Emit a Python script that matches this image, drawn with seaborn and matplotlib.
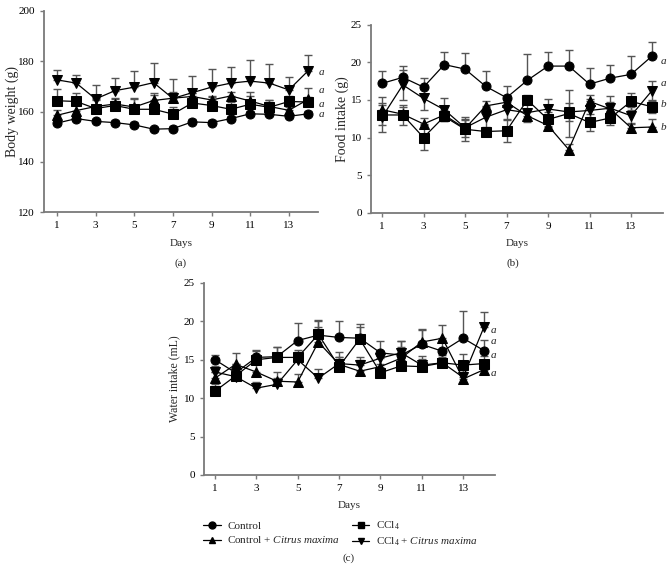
import numpy as np
import pandas as pd
import seaborn as sns
import matplotlib.pyplot as plt
from matplotlib.lines import Line2D

# data
days = list(range(1, 15))
groups = ["Control", "Control + CM", "CCl4", "CCl4 + CM"]

bw_control = [155.4, 157.2, 156.1, 155.6, 154.7, 153.0, 153.2, 155.9, 155.6, 157.2, 159.1, 158.9, 158.1, 159.1]
bw_control_cm = [158.5, 160.4, 162.0, 163.0, 161.8, 164.4, 165.3, 166.0, 164.6, 166.2, 164.2, 162.0, 160.5, 164.8]
bw_ccl4 = [164.3, 164.0, 161.2, 162.4, 160.9, 160.9, 159.0, 163.4, 162.4, 160.9, 162.9, 161.7, 164.0, 163.8]
bw_ccl4_cm = [172.6, 171.3, 165.0, 168.3, 169.7, 171.5, 165.2, 167.5, 169.7, 171.3, 172.1, 171.3, 168.6, 176.2]
bw_control_err = [1.0, 1.2, 1.0, 1.0, 1.0, 1.0, 1.0, 1.0, 1.0, 1.0, 1.0, 1.0, 1.0, 1.0]
bw_control_cm_err = [2.0, 2.5, 2.5, 2.5, 3.0, 2.8, 2.5, 2.5, 1.5, 1.5, 2.0, 2.5, 1.5, 4.5]
bw_ccl4_err = [4.5, 3.5, 4.0, 2.5, 4.5, 5.5, 3.0, 4.0, 3.5, 3.0, 5.0, 3.0, 2.0, 2.0]
bw_ccl4_cm_err = [3.8, 3.3, 5.6, 4.9, 6.6, 7.7, 7.8, 6.7, 7.3, 6.6, 8.2, 7.6, 5.3, 6.1]

fi_control = [17.2, 18.0, 16.7, 19.7, 19.1, 16.8, 15.3, 17.6, 19.5, 19.5, 17.1, 17.9, 18.4, 20.8]
fi_control_cm = [13.7, 13.1, 11.8, 13.0, 11.2, 14.2, 14.7, 12.9, 11.6, 8.4, 14.8, 13.8, 11.3, 11.4]
fi_ccl4 = [13.0, 13.0, 10.0, 12.8, 11.1, 10.8, 10.9, 15.0, 12.4, 13.2, 12.0, 12.6, 14.8, 14.1]
fi_ccl4_cm = [12.7, 17.0, 15.2, 13.7, 11.3, 12.7, 13.7, 13.3, 13.8, 13.4, 13.6, 13.9, 12.9, 16.2]
fi_control_err = [1.6, 1.5, 1.2, 1.7, 2.1, 2.0, 1.5, 3.5, 1.9, 2.2, 2.2, 1.8, 2.4, 1.9]
fi_control_cm_err = [1.7, 1.0, 0.8, 0.6, 1.1, 0.7, 1.0, 0.6, 0.6, 0.8, 0.8, 0.9, 0.6, 1.0]
fi_ccl4_err = [1.3, 1.3, 1.7, 0.6, 1.6, 0.4, 1.5, 0.6, 1.0, 3.1, 1.1, 0.9, 1.1, 0.9]
fi_ccl4_cm_err = [1.9, 2.0, 1.5, 1.5, 1.2, 1.3, 1.4, 1.2, 1.3, 1.2, 1.5, 1.6, 1.1, 1.3]

wi_control = [15.0, 13.3, 15.3, 15.4, 17.5, 18.2, 17.9, 17.8, 15.9, 15.6, 17.0, 16.1, 17.8, 16.2]
wi_control_cm = [12.6, 14.4, 13.4, 12.2, 12.1, 17.3, 14.4, 13.5, 14.1, 15.2, 17.3, 17.8, 12.5, 13.7]
wi_ccl4 = [10.9, 12.9, 15.0, 15.3, 15.3, 18.3, 14.1, 17.7, 13.3, 14.2, 14.1, 14.6, 14.3, 14.5]
wi_ccl4_cm = [13.4, 12.8, 11.3, 11.8, 15.0, 12.6, 14.5, 14.3, 15.2, 15.9, 14.3, 14.6, 12.7, 19.2]
wi_control_err = [0.6, 1.0, 1.0, 1.2, 2.3, 2.0, 2.2, 1.9, 1.5, 1.8, 2.0, 1.5, 3.5, 1.4]
wi_control_cm_err = [0.8, 1.5, 1.0, 1.2, 1.0, 2.0, 1.0, 1.5, 1.5, 1.5, 1.6, 1.7, 1.2, 1.0]
wi_ccl4_err = [1.0, 1.5, 1.2, 1.4, 1.0, 1.8, 1.2, 1.5, 1.2, 1.0, 1.0, 0.8, 1.4, 1.0]
wi_ccl4_cm_err = [0.8, 1.2, 0.8, 0.8, 1.0, 1.2, 1.5, 1.0, 1.0, 1.5, 1.2, 1.0, 1.0, 2.0]

# significance letters at the end of each panel: (text, y value)
bw_letters = [("a", 175.5), ("a", 168.3), ("a", 163.0), ("a", 158.9)]
fi_letters = [("a", 20.1), ("a", 17.2), ("b", 14.4), ("b", 11.3)]
wi_letters = [("a", 18.8), ("a", 17.4), ("a", 15.6), ("a", 13.2)]

markers = {"Control": "o", "Control + CM": "^", "CCl4": "s", "CCl4 + CM": "v"}
legend_labels = {"Control": "Control",
                 "Control + CM": r"Control + $\it{Citrus\ maxima}$",
                 "CCl4": r"CCl$_4$",
                 "CCl4 + CM": r"CCl$_4$ + $\it{Citrus\ maxima}$"}

sns.set_style("ticks")
plt.rcParams["font.family"] = ["Liberation Serif", "DejaVu Serif"]
plt.rcParams["mathtext.fontset"] = "custom"
plt.rcParams["mathtext.rm"] = "Liberation Serif"
plt.rcParams["mathtext.it"] = "Liberation Serif:italic"
plt.rcParams["font.size"] = 8

AXIS_GREY = "#7a7a7a"


def make_frame(values):
    rows = []
    for g, vals in zip(groups, values):
        for d, v in zip(days, vals):
            rows.append({"day": d, "value": v, "group": g})
    return pd.DataFrame(rows)


def draw_panel(ax, values, errors, directions, ylim, yticks, ylabel, label_size, label_x,
               xlim, letters, letter_x):
    df = make_frame(values)
    # error bars first so markers sit on top
    for vals, err, way in zip(values, errors, directions):
        err = np.array(err)
        lower = err if way == "both" else np.zeros_like(err)
        ax.errorbar(days, vals, yerr=[lower, err], fmt="none", ecolor="#555555",
                    elinewidth=1.0, capsize=3, capthick=1.0, zorder=1)
    sns.lineplot(data=df, x="day", y="value", style="group", markers=markers,
                 dashes=False, color="black", linewidth=0.9, markersize=6.5,
                 markeredgecolor="black", legend=False, ax=ax, zorder=3)
    ax.set_ylim(*ylim)
    ax.set_yticks(yticks)
    ax.set_xlim(*xlim)
    ax.set_xticks([1, 3, 5, 7, 9, 11, 13])
    ax.set_xlabel("Days", fontsize=8, labelpad=6)
    ax.set_ylabel(ylabel, fontsize=label_size)
    ax.yaxis.set_label_coords(label_x, 0.5)
    sns.despine(ax=ax)
    for side in ["left", "bottom"]:
        ax.spines[side].set_color(AXIS_GREY)
        ax.spines[side].set_linewidth(1.3)
    ax.tick_params(axis="both", colors=AXIS_GREY, labelcolor="black",
                   labelsize=8, length=3, width=1.0)
    for txt, y in letters:
        ax.text(letter_x, y, txt, style="italic", fontsize=8, va="center", ha="left",
                clip_on=False)


fig = plt.figure(figsize=(6.71, 5.75), dpi=100)
ax_a = fig.add_axes([0.0656, 0.631, 0.408, 0.350])
ax_b = fig.add_axes([0.553, 0.630, 0.435, 0.327])
ax_c = fig.add_axes([0.304, 0.174, 0.434, 0.334])

draw_panel(ax_a, [bw_control, bw_control_cm, bw_ccl4, bw_ccl4_cm],
           [bw_control_err, bw_control_cm_err, bw_ccl4_err, bw_ccl4_cm_err],
           ["up", "up", "up", "up"], (120, 200), [120, 140, 160, 180, 200],
           "Body weight (g)", 10, -0.09, (0.33, 14.5), bw_letters, 14.55)
draw_panel(ax_b, [fi_control, fi_control_cm, fi_ccl4, fi_ccl4_cm],
           [fi_control_err, fi_control_cm_err, fi_ccl4_err, fi_ccl4_cm_err],
           ["up", "up", "both", "both"], (0, 25), [0, 5, 10, 15, 20, 25],
           "Food intake (g)", 10, -0.075, (0.47, 14.54), fi_letters, 14.45)
draw_panel(ax_c, [wi_control, wi_control_cm, wi_ccl4, wi_ccl4_cm],
           [wi_control_err, wi_control_cm_err, wi_ccl4_err, wi_ccl4_cm_err],
           ["up", "up", "up", "up"], (0, 25), [0, 5, 10, 15, 20, 25],
           "Water intake (mL)", 8.5, -0.082, (0.47, 14.55), wi_letters, 14.35)

fig.text(181 / 671, 1 - 263 / 575, "(a)", ha="center", va="center", fontsize=8)
fig.text(513 / 671, 1 - 263 / 575, "(b)", ha="center", va="center", fontsize=8)
fig.text(349 / 671, 1 - 558 / 575, "(c)", ha="center", va="center", fontsize=8)

# legend in two columns under panel (c)
order = ["Control", "Control + CM", "CCl4", "CCl4 + CM"]
handles = [Line2D([0], [0], color="black", linewidth=0.9, marker=markers[g],
                  markersize=5, markeredgecolor="black") for g in order]
fig.legend(handles, [legend_labels[g] for g in order], ncol=2, frameon=False,
           loc="center", bbox_to_anchor=(0.507, 1 - 534 / 575), fontsize=8,
           handlelength=1.6, columnspacing=1.0, labelspacing=0.35, handletextpad=0.6)

fig.savefig("out.png", dpi=100)
